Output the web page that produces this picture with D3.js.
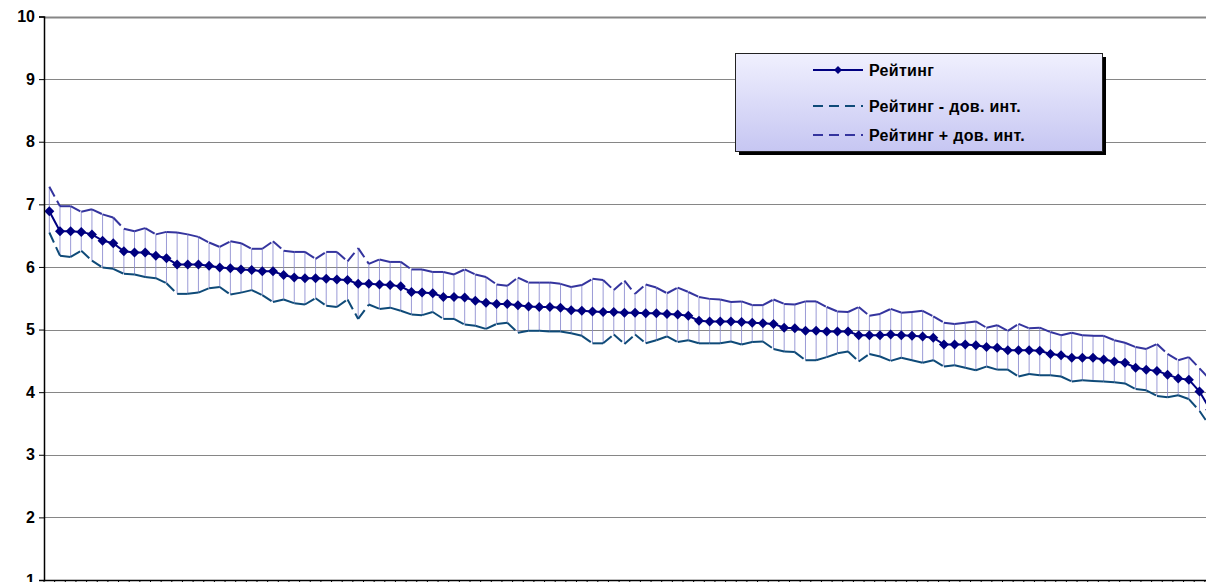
<!DOCTYPE html>
<html><head><meta charset="utf-8">
<script src="https://cdn.jsdelivr.net/npm/d3@7/dist/d3.min.js"></script>
<style>html,body{margin:0;padding:0;background:#fff;overflow:hidden}</style>
</head><body>
<svg id="chart" width="1206" height="582"></svg>
<script>
const categories = d3.range(1, 111);
const rating = [6.89,6.57,6.57,6.56,6.52,6.42,6.38,6.25,6.23,6.23,6.18,6.14,6.04,6.04,6.04,6.02,5.99,5.98,5.96,5.95,
5.93,5.93,5.87,5.83,5.82,5.82,5.81,5.80,5.79,5.73,5.73,5.72,5.71,5.69,5.60,5.59,5.58,5.52,5.52,5.51,
5.46,5.43,5.41,5.41,5.39,5.37,5.36,5.36,5.35,5.31,5.30,5.29,5.28,5.28,5.27,5.27,5.26,5.26,5.25,5.24,
5.22,5.14,5.13,5.13,5.13,5.12,5.11,5.10,5.09,5.03,5.02,4.98,4.98,4.97,4.97,4.97,4.91,4.91,4.91,4.92,
4.91,4.90,4.89,4.87,4.76,4.76,4.76,4.75,4.72,4.71,4.67,4.67,4.67,4.66,4.61,4.59,4.55,4.55,4.55,4.52,
4.49,4.47,4.39,4.36,4.34,4.28,4.22,4.20,4.01,3.72];
const upperCI = [7.28,6.97,6.97,6.88,6.92,6.84,6.79,6.61,6.57,6.62,6.52,6.56,6.55,6.52,6.48,6.39,6.32,6.41,6.38,6.29,
6.29,6.41,6.26,6.24,6.24,6.13,6.24,6.24,6.09,6.30,6.05,6.12,6.08,6.08,5.96,5.96,5.92,5.92,5.88,5.96,
5.88,5.84,5.72,5.70,5.83,5.75,5.75,5.75,5.73,5.68,5.71,5.81,5.79,5.63,5.78,5.57,5.72,5.67,5.58,5.67,
5.60,5.52,5.49,5.48,5.44,5.45,5.39,5.39,5.48,5.41,5.40,5.45,5.45,5.36,5.29,5.28,5.36,5.22,5.25,5.33,
5.27,5.28,5.30,5.21,5.11,5.09,5.11,5.13,5.03,5.07,4.98,5.09,5.02,5.03,4.96,4.91,4.95,4.91,4.90,4.90,
4.83,4.79,4.72,4.69,4.77,4.61,4.51,4.56,4.38,4.20];
const lowerCI = [6.55,6.18,6.16,6.26,6.10,5.99,5.97,5.89,5.88,5.84,5.82,5.74,5.57,5.57,5.59,5.66,5.68,5.56,5.59,5.63,
5.55,5.44,5.48,5.42,5.40,5.50,5.38,5.36,5.48,5.17,5.40,5.33,5.35,5.30,5.24,5.23,5.28,5.17,5.17,5.08,
5.06,5.01,5.09,5.11,4.95,4.98,4.98,4.97,4.97,4.94,4.90,4.78,4.78,4.92,4.77,4.92,4.78,4.83,4.89,4.80,
4.83,4.78,4.78,4.78,4.81,4.76,4.80,4.81,4.69,4.65,4.64,4.51,4.51,4.56,4.62,4.65,4.49,4.61,4.57,4.50,
4.55,4.51,4.47,4.51,4.41,4.43,4.39,4.35,4.41,4.36,4.36,4.25,4.29,4.27,4.27,4.25,4.17,4.19,4.18,4.17,
4.16,4.14,4.05,4.03,3.94,3.92,3.95,3.89,3.70,3.45];
const yTicks = [1,2,3,4,5,6,7,8,9,10];
const seriesNames = ["Рейтинг","Рейтинг - дов. инт.","Рейтинг + дов. инт."];

const svg = d3.select("#chart");
const plotLeft = 44, plotTop = 16.5, plotBottom = 580, step = 10.65;
const x = d3.scaleBand().domain(categories).range([plotLeft, plotLeft + categories.length * step]).padding(0);
const y = d3.scaleLinear().domain([1, 10]).range([plotBottom, plotTop]);
const cx = d => x(d) + x.bandwidth() / 2;

// gridlines
svg.append("g").selectAll("line").data(yTicks).join("line")
  .attr("x1", plotLeft).attr("x2", 1206)
  .attr("y1", d => Math.round(y(d)) + 0.5).attr("y2", d => Math.round(y(d)) + 0.5)
  .attr("stroke", "#868686").attr("stroke-width", d => d === 10 ? 2 : 1);

const pts = categories.map((c, i) => ({c, v: rating[i], lo: lowerCI[i], hi: upperCI[i]}));

// high-low lines
svg.append("g").selectAll("line").data(pts).join("line")
  .attr("x1", d => cx(d.c)).attr("x2", d => cx(d.c))
  .attr("y1", d => y(d.hi)).attr("y2", d => y(d.lo))
  .attr("stroke", "#8a8ad0").attr("stroke-width", 1).attr("opacity", 0.85);

// dashed CI lines (dash restarts on each segment)
function dashed(key, color) {
  const segs = d3.pairs(pts);
  svg.append("g").selectAll("line").data(segs).join("line")
    .attr("x1", d => cx(d[0].c)).attr("y1", d => y(d[0][key]))
    .attr("x2", d => cx(d[1].c)).attr("y2", d => y(d[1][key]))
    .attr("stroke", color).attr("stroke-width", 2)
    .attr("stroke-dasharray", "11,5").attr("fill", "none");
}
dashed("lo", "#0e4a78");
dashed("hi", "#34349e");

// rating line
svg.append("path").datum(pts)
  .attr("d", d3.line().x(d => cx(d.c)).y(d => y(d.v)))
  .attr("fill", "none").attr("stroke", "#000080").attr("stroke-width", 2);

const diamond = d3.symbol().type(d3.symbolSquare).size(50);
svg.append("g").selectAll("path").data(pts).join("path")
  .attr("d", diamond)
  .attr("transform", d => `translate(${cx(d.c)},${y(d.v)}) rotate(45)`)
  .attr("fill", "#000080");

// axes
const yAxis = d3.axisLeft(y).tickValues(yTicks).tickSize(5).tickPadding(4).tickFormat(d3.format("d"));
const ga = svg.append("g").attr("transform", `translate(${plotLeft},0)`).call(yAxis);
ga.select(".domain").attr("stroke", "#000").attr("stroke-width", 1.5);
ga.selectAll(".tick line").attr("stroke", "#000");
ga.selectAll(".tick text").attr("font-family", "Liberation Sans, Arial, sans-serif")
  .attr("font-weight", "bold").attr("font-size", 16).attr("fill", "#000");

const xAxis = d3.axisBottom(x).tickValues([]).tickSizeOuter(0);
const gx = svg.append("g").attr("transform", `translate(0,${plotBottom})`).call(xAxis);
gx.select(".domain").attr("stroke", "#000").attr("stroke-width", 1.5);
gx.append("g").selectAll("line").data(categories).join("line")
  .attr("x1", d => x(d)).attr("x2", d => x(d)).attr("y1", 0).attr("y2", 6)
  .attr("stroke", "#000").attr("stroke-width", 1);

// legend
const defs = svg.append("defs");
const grad = defs.append("linearGradient").attr("id", "lg").attr("x1", 0).attr("y1", 0).attr("x2", 0).attr("y2", 1);
grad.append("stop").attr("offset", "0%").attr("stop-color", "#f0f0fe");
grad.append("stop").attr("offset", "100%").attr("stop-color", "#c6c6f2");
const lgX = 735, lgY = 53, lgW = 367, lgH = 98;
svg.append("rect").attr("x", lgX + 4).attr("y", lgY + 4).attr("width", lgW).attr("height", lgH).attr("fill", "#000");
svg.append("rect").attr("x", lgX + 0.5).attr("y", lgY + 0.5).attr("width", lgW).attr("height", lgH)
  .attr("fill", "url(#lg)").attr("stroke", "#222").attr("stroke-width", 1);
const rowsY = [70, 106, 135];
const styles = [{c: "#000080", dash: null}, {c: "#0e4a78", dash: "10,6"}, {c: "#34349e", dash: "10,6"}];
seriesNames.forEach((name, i) => {
  const g = svg.append("g");
  g.append("line").attr("x1", 813).attr("x2", 863).attr("y1", rowsY[i]).attr("y2", rowsY[i])
    .attr("stroke", styles[i].c).attr("stroke-width", 2).attr("stroke-dasharray", styles[i].dash);
  if (i === 0) g.append("path").attr("d", d3.symbol().type(d3.symbolSquare).size(32))
    .attr("transform", `translate(838,${rowsY[i]}) rotate(45)`).attr("fill", "#000080");
  g.append("text").attr("x", 869).attr("y", rowsY[i]).attr("dy", "0.36em")
    .attr("font-family", "Liberation Sans, Arial, sans-serif").attr("font-weight", "bold")
    .attr("font-size", 16).attr("letter-spacing", 0.3).attr("fill", "#000").text(name);
});
</script>
</body></html>
